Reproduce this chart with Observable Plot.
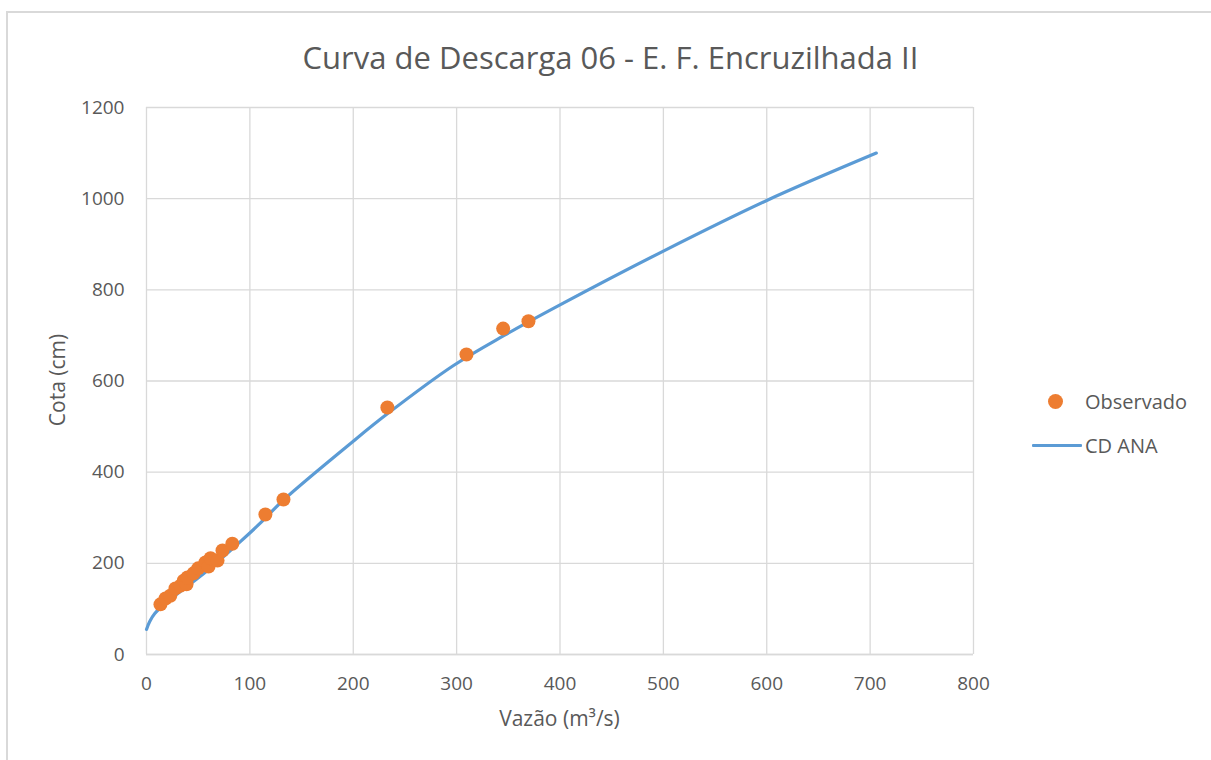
<!DOCTYPE html>
<html>
<head>
<meta charset="utf-8">
<script src="https://cdn.jsdelivr.net/npm/d3@7"></script>
<script src="https://cdn.jsdelivr.net/npm/@observablehq/plot@0.6"></script>
<style>
  html, body { margin: 0; padding: 0; background: #fff; }
  #wrap { position: relative; width: 1211px; height: 760px; overflow: hidden; font-family: "Open Sans", sans-serif; color: #595959; }
  #border { position: absolute; left: 6px; top: 11px; width: 1300px; height: 900px; border-left: 2px solid #d9d9d9; border-top: 2px solid #d9d9d9; box-sizing: border-box; }
  #chart { position: absolute; left: 0; top: 0; }
  .title { position: absolute; top: 36px; left: 0; width: 1221px; text-align: center; font-size: 31px; color: #595959; white-space: nowrap; }
  .xlab { position: absolute; top: 704px; left: 146px; width: 827px; text-align: center; font-size: 21px; }
  .ylab { position: absolute; left: 57px; top: 380px; transform: translate(-50%, -50%) rotate(-90deg); font-size: 21px; white-space: nowrap; }
  .leg { position: absolute; left: 1032px; font-size: 20px; display: flex; align-items: center; white-space: nowrap; }
  .dot { width: 15px; height: 15px; border-radius: 50%; background: #ed7d31; margin-left: 16px; margin-right: 22px; }
  .ln { width: 50px; height: 3px; background: #5b9bd5; margin-right: 3px; border-radius: 1px; }
</style>
</head>
<body>
<div id="wrap">
  <div id="border"></div>
  <div id="chart"></div>
  <div class="title">Curva de Descarga 06 - E. F. Encruzilhada II</div>
  <div class="xlab">Vazão (m³/s)</div>
  <div class="ylab">Cota (cm)</div>
  <div class="leg" style="top:388px"><span class="dot"></span><span>Observado</span></div>
  <div class="leg" style="top:432px"><span class="ln"></span><span>CD ANA</span></div>
</div>
<script>
// Observed measurements (Vazão m³/s, Cota cm)
const obsQ = [13.5, 18.4, 23, 28, 33, 36, 38.7, 39.6, 45.5, 50, 57, 60, 62, 68.7, 73.5, 83, 115, 132.5, 233, 309.5, 345, 369.5];
const obsH = [110, 123, 129, 145, 151, 162, 154, 169, 178, 189, 202, 193, 211, 206, 228, 243, 307, 340, 542, 658, 715, 731];

// Rating curve "CD ANA"
const cdQ = [0, 3, 8, 15, 26, 59, 90, 110, 133, 200, 233, 297, 346, 400, 500, 600, 706];
const cdH = [55, 72, 90, 105, 126, 184, 246, 288, 340, 468, 528, 634, 700, 767, 885, 996, 1100];

const xTicks = [0, 100, 200, 300, 400, 500, 600, 700, 800];
const yTicks = [0, 200, 400, 600, 800, 1000, 1200];

const obs = obsQ.map((q, i) => ({q, h: obsH[i]}));
const cd = cdQ.map((q, i) => ({q, h: cdH[i]}));

const chart = Plot.plot({
  width: 1211,
  height: 760,
  marginLeft: 146,
  marginRight: 238,
  marginTop: 107,
  marginBottom: 106,
  style: {fontFamily: "Open Sans, sans-serif", color: "#595959", background: "transparent"},
  x: {domain: [0, 800]},
  y: {domain: [0, 1200]},
  marks: [
    Plot.gridX(xTicks, {stroke: "#d9d9d9", strokeOpacity: 1, strokeWidth: 1.3}),
    Plot.gridY(yTicks, {stroke: "#d9d9d9", strokeOpacity: 1, strokeWidth: 1.3}),
    Plot.ruleY([0], {stroke: "#d9d9d9", strokeWidth: 1.3}),
    Plot.axisX(xTicks, {tickSize: 0, tickPadding: 22, fontSize: 19, label: null, fill: "#595959", tickFormat: d => String(d)}),
    Plot.axisY(yTicks, {tickSize: 0, tickPadding: 22, fontSize: 19, label: null, fill: "#595959", tickFormat: d => String(d)}),
    Plot.line(cd, {x: "q", y: "h", stroke: "#5b9bd5", strokeWidth: 3.2, curve: "catmull-rom"}),
    Plot.dot(obs, {x: "q", y: "h", r: 7, fill: "#ed7d31", stroke: null})
  ]
});
document.getElementById("chart").appendChild(chart);
</script>
</body>
</html>
